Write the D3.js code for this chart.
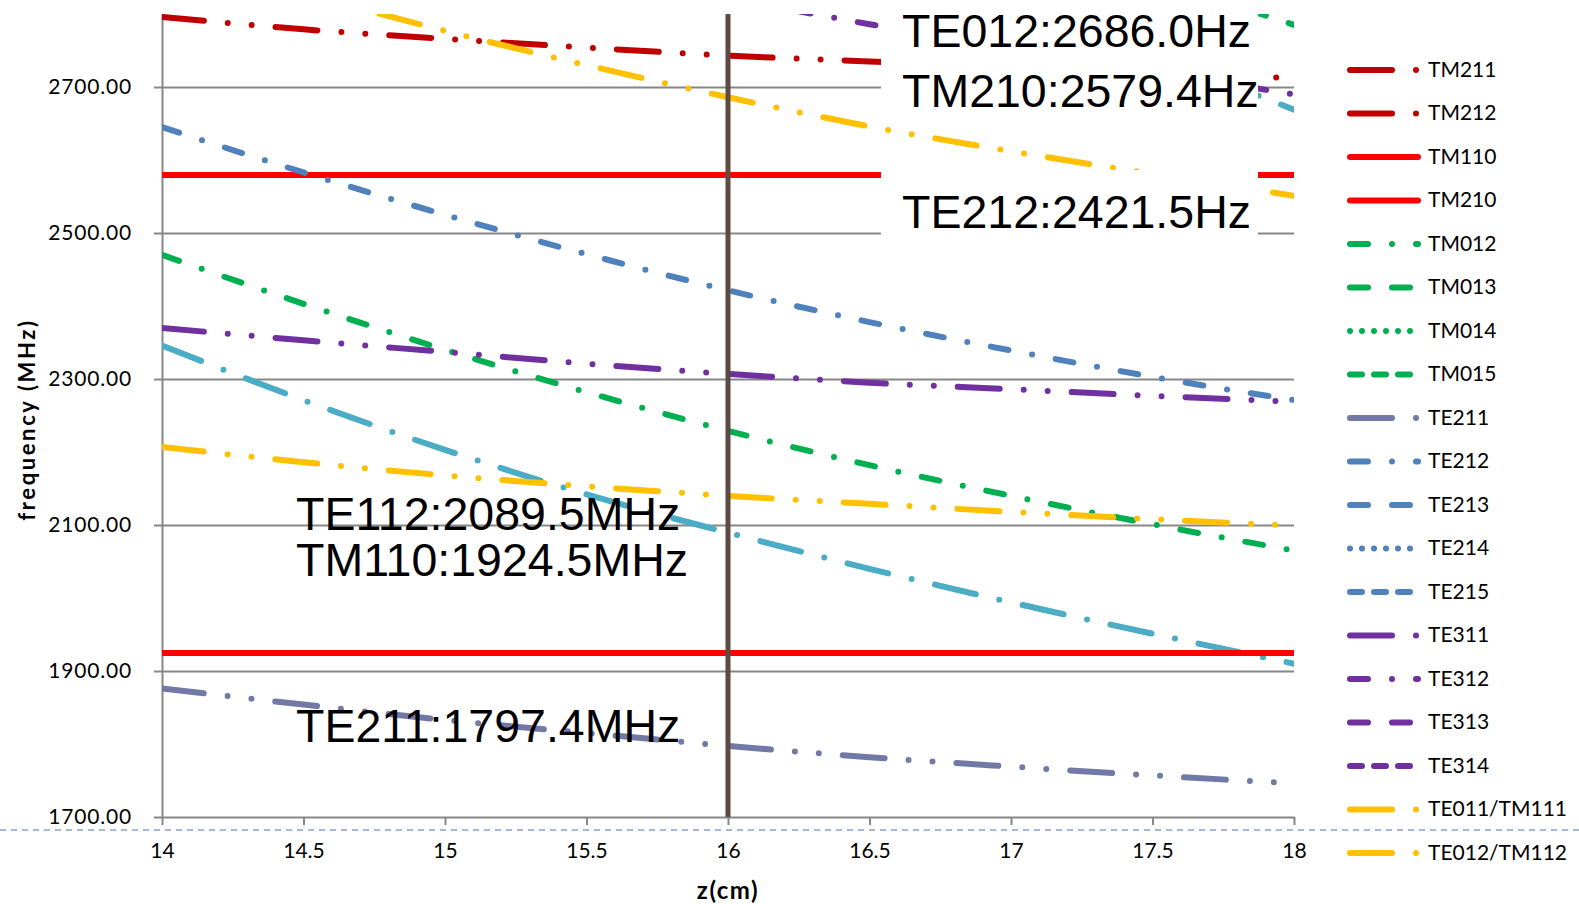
<!DOCTYPE html>
<html>
<head>
<meta charset="utf-8">
<script src="https://cdn.jsdelivr.net/npm/d3@7"></script>
<style>
  body { margin: 0; background: #fff; }
  svg { display: block; }
</style>
</head>
<body>
<svg id="chart"></svg>
<script>
// z (cm) sample points
const zValues = [14, 14.5, 15, 15.5, 16, 16.5, 17, 17.5, 18];

// frequencies in MHz (null = above the visible range)
const tm211 = [2796, 2779, 2766, 2754, 2743, 2735, 2727, 2720, 2712];
const tm212 = [];
const tm110 = [1924.5, 1924.5, 1924.5, 1924.5, 1924.5, 1924.5, 1924.5, 1924.5, 1924.5];
const tm210 = [2579.4, 2579.4, 2579.4, 2579.4, 2579.4, 2579.4, 2579.4, 2579.4, 2579.4];
const tm012 = [2470, 2403, 2340, 2282, 2229, 2182, 2140, 2101, 2065];
const tm013 = [null, null, null, null, null, null, 2920, 2850, 2785];
const tm014 = [];
const tm015 = [];
const te211 = [1876, 1854, 1833, 1815, 1797.4, 1782, 1769, 1757, 1746];
const te212 = [2645, 2583, 2525, 2471, 2421.5, 2378, 2339, 2303, 2271];
const te213 = [];
const te214 = [];
const te215 = [];
const te311 = [2370, 2353, 2337, 2321, 2307, 2295, 2286, 2277, 2269];
const te312 = [null, null, null, null, 2822, 2786, 2753, 2721, 2690];
const te313 = [];
const te314 = [];
const te011 = [2207, 2186, 2168, 2153, 2140, 2129, 2118, 2108, 2099];
const te012 = [2895, 2830, 2777, 2730, 2686, 2646, 2612, 2581, 2551];
// not in the legend
const te112 = [2346, 2271, 2203, 2142, 2089.5, 2040, 1994, 1951, 1910];
const te113 = [null, null, null, null, null, 2925, 2832, 2747, 2669];

const yTicks = [1700, 1900, 2100, 2300, 2500, 2700];
const xTicks = [14, 14.5, 15, 15.5, 16, 16.5, 17, 17.5, 18];
const markerZ = 16;

const legendNames = ["TM211", "TM212", "TM110", "TM210", "TM012", "TM013", "TM014", "TM015",
  "TE211", "TE212", "TE213", "TE214", "TE215", "TE311", "TE312", "TE313", "TE314",
  "TE011/TM111", "TE012/TM112"];

const notes = [
  {text: "TE012:2686.0Hz", x: 902, y: 47},
  {text: "TM210:2579.4Hz", x: 902, y: 107},
  {text: "TE212:2421.5Hz", x: 902, y: 228},
  {text: "TE112:2089.5MHz", x: 296, y: 530},
  {text: "TM110:1924.5MHz", x: 296, y: 576},
  {text: "TE211:1797.4MHz", x: 296, y: 742}
];

// ---- styles ----
const DARKRED = "#c00000", RED = "#ff0000", GREEN = "#00b050", SLATE = "#7279a6",
      BLUE = "#4f81bd", PURPLE = "#7030a0", GOLD = "#ffc000", CYAN = "#4bacc6";
const W = 1579, H = 904;
const P = {left: 162, right: 1294, top: 14, bottom: 817};
const LW = 6;

// Office dash presets, in units of line width (round caps eat 1w off each dash)
const dashes = {
  solid: null,
  sysDot: [0, 2],
  sysDash: [2, 2],
  dash: [3, 4],
  dashDot: [3, 4, 0, 4],
  lgDashDot: [7, 4, 0, 4],
  lgDashDotDot: [7, 4, 0, 4, 0, 4]
};

const series = [
  {name: "TE113", values: te113, color: CYAN, dash: "lgDashDot", legend: false},
  {name: "TE112", values: te112, color: CYAN, dash: "lgDashDot", legend: false},
  {name: "TM211", values: tm211, color: DARKRED, dash: "lgDashDotDot"},
  {name: "TM212", values: tm212, color: DARKRED, dash: "lgDashDotDot"},
  {name: "TM110", values: tm110, color: RED, dash: "solid"},
  {name: "TM210", values: tm210, color: RED, dash: "solid"},
  {name: "TM012", values: tm012, color: GREEN, dash: "dashDot"},
  {name: "TM013", values: tm013, color: GREEN, dash: "dash"},
  {name: "TM014", values: tm014, color: GREEN, dash: "sysDot"},
  {name: "TM015", values: tm015, color: GREEN, dash: "sysDash"},
  {name: "TE211", values: te211, color: SLATE, dash: "lgDashDotDot"},
  {name: "TE212", values: te212, color: BLUE, dash: "dashDot"},
  {name: "TE213", values: te213, color: BLUE, dash: "dash"},
  {name: "TE214", values: te214, color: BLUE, dash: "sysDot"},
  {name: "TE215", values: te215, color: BLUE, dash: "sysDash"},
  {name: "TE311", values: te311, color: PURPLE, dash: "lgDashDotDot"},
  {name: "TE312", values: te312, color: PURPLE, dash: "dashDot"},
  {name: "TE313", values: te313, color: PURPLE, dash: "dash"},
  {name: "TE314", values: te314, color: PURPLE, dash: "sysDash"},
  {name: "TE011/TM111", values: te011, color: GOLD, dash: "lgDashDotDot"},
  {name: "TE012/TM112", values: te012, color: GOLD, dash: "lgDashDotDot"}
];

const dashArray = (key) => dashes[key] ? dashes[key].map(d => d * LW).join(",") : null;

const svg = d3.select("#chart").attr("width", W).attr("height", H);

const x = d3.scaleLinear().domain([14, 18]).range([P.left, P.right]);
const y = d3.scaleLinear().domain([1700, 2800]).range([P.bottom, P.top]);

const tickFont = "Lato, 'Noto Sans', sans-serif";
const GRID = "#878787";

// gridlines
svg.append("g")
  .attr("transform", `translate(${P.left},0)`)
  .call(d3.axisLeft(y).tickValues(yTicks.slice(1)).tickSize(-(P.right - P.left)).tickFormat(""))
  .call(g => g.select(".domain").remove())
  .call(g => g.selectAll("line").attr("stroke", GRID).attr("stroke-width", 2));

// y axis
svg.append("g")
  .attr("transform", `translate(${P.left},0)`)
  .call(d3.axisLeft(y).tickValues(yTicks).tickSize(8).tickSizeOuter(0).tickPadding(22)
    .tickFormat(d3.format(".2f")))
  .call(g => g.select(".domain").attr("stroke", GRID).attr("stroke-width", 2))
  .call(g => g.selectAll(".tick line").attr("stroke", GRID).attr("stroke-width", 2))
  .call(g => g.selectAll("text")
    .attr("fill", "#000").style("font-family", tickFont).style("font-size", "21px")
    .style("letter-spacing", "0.8px"));

// x axis
svg.append("g")
  .attr("transform", `translate(0,${P.bottom})`)
  .call(d3.axisBottom(x).tickValues(xTicks).tickSize(8).tickSizeOuter(0).tickPadding(18)
    .tickFormat(d => String(d)))
  .call(g => g.select(".domain").attr("stroke", GRID).attr("stroke-width", 2))
  .call(g => g.selectAll(".tick line").attr("stroke", GRID).attr("stroke-width", 2))
  .call(g => g.selectAll("text")
    .attr("fill", "#000").style("font-family", tickFont).style("font-size", "21px"));

// axis titles
svg.append("text")
  .attr("transform", `translate(26,${(P.top + P.bottom) / 2 + 4}) rotate(-90)`)
  .attr("text-anchor", "middle").attr("dominant-baseline", "central")
  .style("font-family", tickFont).style("font-weight", "bold").style("font-size", "22px")
  .style("letter-spacing", "2.6px")
  .text("frequency (MHz)");

svg.append("text")
  .attr("x", (P.left + P.right) / 2).attr("y", 889)
  .attr("text-anchor", "middle").attr("dominant-baseline", "central")
  .style("font-family", tickFont).style("font-weight", "bold").style("font-size", "24px")
  .style("letter-spacing", "1.5px")
  .text("z(cm)");

// series lines
svg.append("clipPath").attr("id", "plotClip")
  .append("rect")
  .attr("x", P.left).attr("y", P.top)
  .attr("width", P.right - P.left).attr("height", P.bottom - P.top);

const line = d3.line()
  .defined(d => d.v != null)
  .x(d => x(d.z))
  .y(d => y(d.v))
  .curve(d3.curveMonotoneX);

const lines = svg.append("g").attr("clip-path", "url(#plotClip)");
series.forEach(s => {
  if (!s.values.length) return;
  const pts = zValues.map((z, i) => ({z, v: s.values[i]}));
  lines.append("path")
    .attr("d", line(pts))
    .attr("fill", "none")
    .attr("stroke", s.color)
    .attr("stroke-width", LW)
    .attr("stroke-linecap", s.dash === "solid" ? "butt" : "round")
    .attr("stroke-dasharray", dashArray(s.dash));
});

// marker at z = 16
svg.append("line")
  .attr("x1", x(markerZ)).attr("x2", x(markerZ))
  .attr("y1", P.top).attr("y2", P.bottom)
  .attr("stroke", "#5c4a43").attr("stroke-width", 5);

// slide separator
svg.append("line")
  .attr("x1", 0).attr("x2", W).attr("y1", 830).attr("y2", 830)
  .attr("stroke", "#a3bad2").attr("stroke-width", 2).attr("stroke-dasharray", "6,5");

// legend
const legendItems = series.filter(s => s.legend !== false);
const legend = svg.append("g");
legendNames.forEach((name, i) => {
  const s = legendItems.find(d => d.name === name);
  const ly = 70 + i * 43.5;
  legend.append("path")
    .attr("d", `M1350,${ly}H1418`)
    .attr("stroke", s.color)
    .attr("stroke-width", LW)
    .attr("stroke-linecap", "round")
    .attr("stroke-dasharray", dashArray(s.dash));
  legend.append("text")
    .attr("x", 1428).attr("y", ly - 2)
    .attr("dominant-baseline", "central")
    .style("font-family", tickFont).style("font-size", "21px")
    .text(name);
});

// annotation boxes and labels
svg.append("rect").attr("x", 881).attr("y", 0).attr("width", 377).attr("height", 118).attr("fill", "#fff");
svg.append("rect").attr("x", 881).attr("y", 170).attr("width", 377).attr("height", 70).attr("fill", "#fff");

svg.append("g").selectAll("text")
  .data(notes)
  .join("text")
  .attr("x", d => d.x).attr("y", d => d.y)
  .style("font-family", "'Liberation Sans', Arial, sans-serif")
  .style("font-size", "46.5px")
  .attr("fill", "#000")
  .text(d => d.text);
</script>
</body>
</html>
